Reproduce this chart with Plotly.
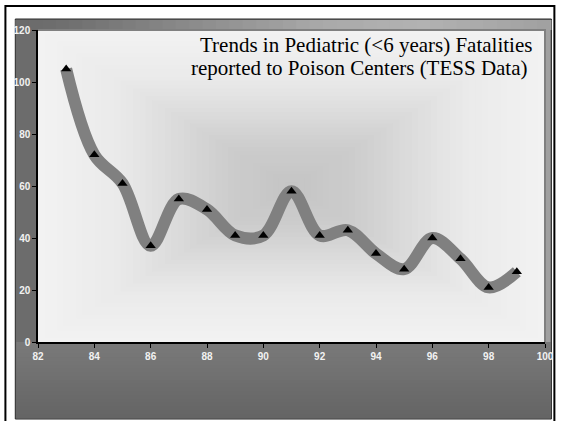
import numpy as np
import plotly.graph_objects as go

# ---- data ----
years = [83, 84, 85, 86, 87, 88, 89, 90, 91, 92, 93, 94, 95, 96, 97, 98, 99]
fatalities = [105, 72, 61, 37, 55, 51, 41, 41, 58, 41, 43, 34, 28, 40, 32, 21, 27]
x_ticks = [82, 84, 86, 88, 90, 92, 94, 96, 98, 100]
y_ticks = [0, 20, 40, 60, 80, 100, 120]
title_lines = ["Trends in Pediatric (<6 years) Fatalities",
               "reported to Poison Centers (TESS Data)"]

# ---- layout geometry (pixels) ----
W, H = 566, 428
PL, PR, PT, PB = 38, 551.5, 30, 342  # plot area edges in px


def px(x):
    return (x - PL) / (PR - PL)


def py(y):
    return (PB - y) / (PB - PT)


def gray(v):
    v = int(round(v))
    return f"rgb({v},{v},{v})"


shapes = []

# outer panel (dark gray)
shapes.append(dict(type="rect", xref="paper", yref="paper", layer="below",
                   x0=px(15), x1=px(558), y0=py(419), y1=py(19),
                   fillcolor=gray(108), line=dict(color="#2a2a2a", width=1)))

# top strip horizontal gradient
n = 40
xs = np.linspace(15, 557, n + 1)
for i in range(n):
    xc = (xs[i] + xs[i + 1]) / 2
    v = np.interp(xc, [15, 60, 200, 330, 430, 557], [106, 110, 140, 170, 178, 160])
    shapes.append(dict(type="rect", xref="paper", yref="paper", layer="below",
                       x0=px(xs[i]), x1=px(xs[i + 1]) + 0.002, y0=py(30), y1=py(20),
                       fillcolor=gray(v), line=dict(width=0)))

# bottom region vertical gradient
m = 20
ys = np.linspace(342, 418, m + 1)
for i in range(m):
    yc = (ys[i] + ys[i + 1]) / 2
    v = np.interp(yc, [342, 418], [122, 100])
    shapes.append(dict(type="rect", xref="paper", yref="paper", layer="below",
                       x0=px(16), x1=px(557), y0=py(ys[i + 1]) - 0.002, y1=py(ys[i]),
                       fillcolor=gray(v), line=dict(width=0)))

# right side strip of plot area
shapes.append(dict(type="rect", xref="paper", yref="paper", layer="below",
                   x0=px(551.5), x1=px(557), y0=py(342), y1=py(30),
                   fillcolor=gray(160), line=dict(width=0)))

# plot area rectangular "from center" gradient
k = 40
for i in range(k):
    s = 1 - i / k
    v = np.interp(s, [0, 0.25, 0.5, 0.7, 1.0], [196, 204, 221, 234, 242])
    shapes.append(dict(type="rect", xref="paper", yref="paper", layer="below",
                       x0=0.5 - s / 2, x1=0.5 + s / 2, y0=0.5 - s / 2, y1=0.5 + s / 2,
                       fillcolor=gray(v), line=dict(width=0)))

# plot area border (top/right gray)
shapes.append(dict(type="path", xref="paper", yref="paper", layer="below",
                   path="M 0,1 L 1,1 L 1,0",
                   line=dict(color=gray(128), width=2)))

# outer black frame (left, top, right)
shapes.append(dict(type="path", xref="paper", yref="paper", layer="above",
                   path=f"M {px(5)},{py(421)} L {px(5)},{py(6)} L {px(561)},{py(6)} L {px(561)},{py(421)}",
                   line=dict(color="black", width=2)))

fig = go.Figure()
fig.add_trace(go.Scatter(
    x=years, y=fatalities, mode="lines",
    line=dict(color="#808080", width=12, shape="spline", smoothing=1.0),
    hoverinfo="skip", showlegend=False))
fig.add_trace(go.Scatter(
    x=years, y=fatalities, mode="markers",
    marker=dict(symbol="triangle-up", size=9, color="black"),
    showlegend=False))

title_font = dict(family="Liberation Serif, Times New Roman, serif", size=21, color="black")
fig.update_layout(
    width=W, height=H,
    margin=dict(l=PL, r=W - PR, t=PT, b=H - PB),
    paper_bgcolor="white", plot_bgcolor="rgba(0,0,0,0)",
    shapes=shapes,
    showlegend=False,
    annotations=[
        dict(x=px(370), y=py(45), xref="paper", yref="paper", text=title_lines[0],
             showarrow=False, font=title_font, xanchor="center", yanchor="middle"),
        dict(x=px(364), y=py(67.5), xref="paper", yref="paper", text=title_lines[1],
             showarrow=False, font=title_font, xanchor="center", yanchor="middle"),
    ],
)

tick_font = dict(family="Liberation Sans, Arial, sans-serif", size=10, color="#f2f2f2")
fig.update_xaxes(range=[82, 100], tickvals=x_ticks, ticktext=[f"<b>{t}</b>" for t in x_ticks],
                 showgrid=False, zeroline=False, showline=True, linecolor="black", linewidth=1.5,
                 ticks="outside", ticklen=4, tickcolor="black", tickwidth=1, tickfont=tick_font)
fig.update_yaxes(range=[0, 120], tickvals=y_ticks, ticktext=[f"<b>{t}</b>" for t in y_ticks],
                 showgrid=False, zeroline=False, showline=True, linecolor="black", linewidth=1.5,
                 ticks="outside", ticklen=4, tickcolor="black", tickwidth=1, tickfont=tick_font)

fig.write_html("out.html", config={"displayModeBar": False},
               post_script="document.body.style.margin='0px';")
